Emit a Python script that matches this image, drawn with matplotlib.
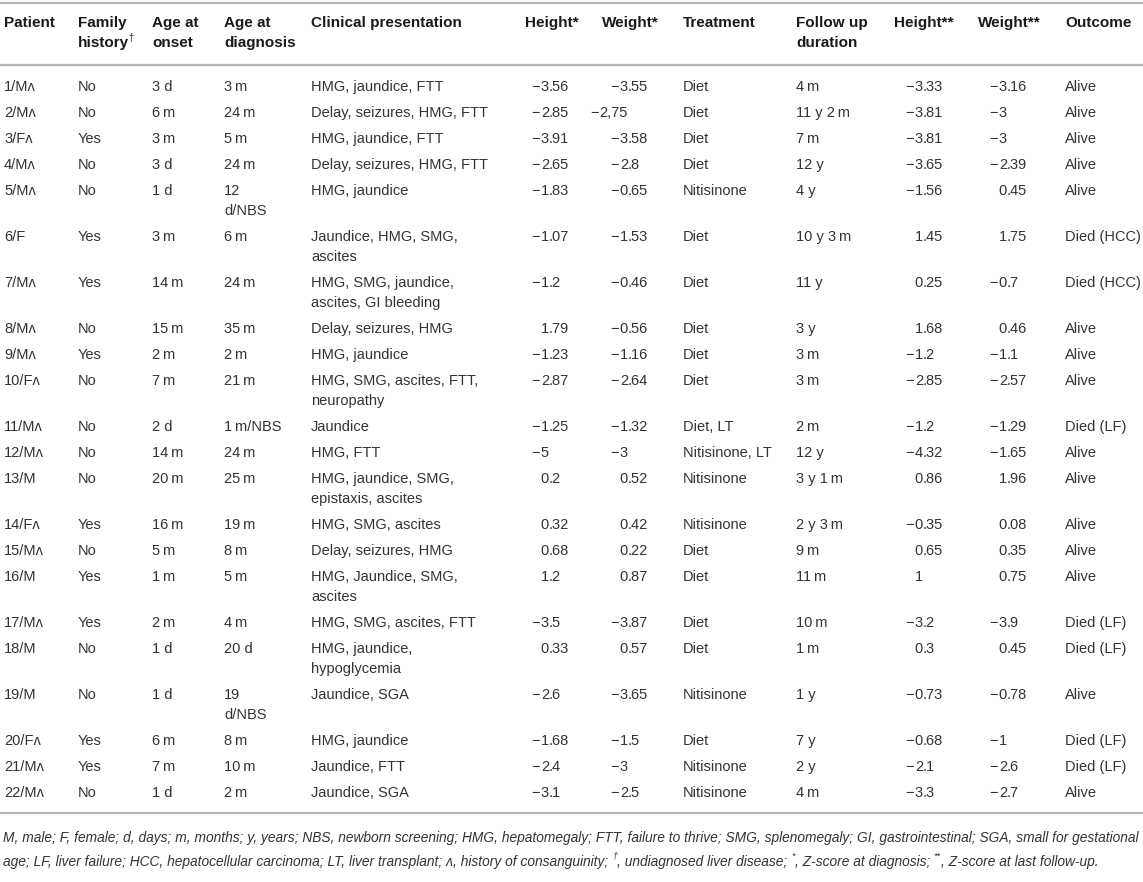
import matplotlib
matplotlib.use('Agg')
import matplotlib.pyplot as plt
from matplotlib.lines import Line2D

# ---- table data ----
patients = ["1/M\u028c", "2/M\u028c", "3/F\u028c", "4/M\u028c", "5/M\u028c", "6/F", "7/M\u028c",
            "8/M\u028c", "9/M\u028c", "10/F\u028c", "11/M\u028c", "12/M\u028c", "13/M", "14/F\u028c",
            "15/M\u028c", "16/M", "17/M\u028c", "18/M", "19/M", "20/F\u028c", "21/M\u028c", "22/M\u028c"]
family = ["No", "No", "Yes", "No", "No", "Yes", "Yes", "No", "Yes", "No", "No", "No", "No", "Yes",
          "No", "Yes", "Yes", "No", "No", "Yes", "Yes", "No"]
onset = ["3 d", "6\u2009m", "3\u2009m", "3 d", "1 d", "3\u2009m", "14\u2009m", "15\u2009m", "2\u2009m", "7\u2009m",
         "2 d", "14\u2009m", "20\u2009m", "16\u2009m", "5\u2009m", "1\u2009m", "2\u2009m", "1 d", "1 d",
         "6\u2009m", "7\u2009m", "1 d"]
diagnosis = ["3\u2009m", "24\u2009m", "5\u2009m", "24\u2009m", "12\nd/NBS", "6\u2009m", "24\u2009m", "35\u2009m",
             "2\u2009m", "21\u2009m", "1\u2009m/NBS", "24\u2009m", "25\u2009m", "19\u2009m", "8\u2009m", "5\u2009m",
             "4\u2009m", "20 d", "19\nd/NBS", "8\u2009m", "10\u2009m", "2\u2009m"]
presentation = ["HMG, jaundice, FTT", "Delay, seizures, HMG, FTT", "HMG, jaundice, FTT",
                "Delay, seizures, HMG, FTT", "HMG, jaundice", "Jaundice, HMG, SMG,\nascites",
                "HMG, SMG, jaundice,\nascites, GI bleeding", "Delay, seizures, HMG", "HMG, jaundice",
                "HMG, SMG, ascites, FTT,\nneuropathy", "Jaundice", "HMG, FTT",
                "HMG, jaundice, SMG,\nepistaxis, ascites", "HMG, SMG, ascites", "Delay, seizures, HMG",
                "HMG, Jaundice, SMG,\nascites", "HMG, SMG, ascites, FTT", "HMG, jaundice,\nhypoglycemia",
                "Jaundice, SGA", "HMG, jaundice", "Jaundice, FTT", "Jaundice, SGA"]
height_dx = ["-3.56", "-2.85", "-3.91", "-2.65", "-1.83", "-1.07", "-1.2", "1.79", "-1.23", "-2.87",
             "-1.25", "-5", "0.2", "0.32", "0.68", "1.2", "-3.5", "0.33", "-2.6", "-1.68", "-2.4", "-3.1"]
weight_dx = ["-3.55", "-2,75", "-3.58", "-2.8", "-0.65", "-1.53", "-0.46", "-0.56", "-1.16", "-2.64",
             "-1.32", "-3", "0.52", "0.42", "0.22", "0.87", "-3.87", "0.57", "-3.65", "-1.5", "-3", "-2.5"]
treatment = ["Diet", "Diet", "Diet", "Diet", "Nitisinone", "Diet", "Diet", "Diet", "Diet", "Diet",
             "Diet, LT", "Nitisinone, LT", "Nitisinone", "Nitisinone", "Diet", "Diet", "Diet", "Diet",
             "Nitisinone", "Diet", "Nitisinone", "Nitisinone"]
followup = ["4\u2009m", "11 y 2\u2009m", "7\u2009m", "12 y", "4 y", "10 y 3\u2009m", "11 y", "3 y", "3\u2009m",
            "3\u2009m", "2\u2009m", "12 y", "3 y 1\u2009m", "2 y 3\u2009m", "9\u2009m", "11\u2009m", "10\u2009m",
            "1\u2009m", "1 y", "7 y", "2 y", "4\u2009m"]
height_fu = ["-3.33", "-3.81", "-3.81", "-3.65", "-1.56", "1.45", "0.25", "1.68", "-1.2", "-2.85",
             "-1.2", "-4.32", "0.86", "-0.35", "0.65", "1", "-3.2", "0.3", "-0.73", "-0.68", "-2.1", "-3.3"]
weight_fu = ["-3.16", "-3", "-3", "-2.39", "0.45", "1.75", "-0.7", "0.46", "-1.1", "-2.57",
             "-1.29", "-1.65", "1.96", "0.08", "0.35", "0.75", "-3.9", "0.45", "-0.78", "-1", "-2.6", "-2.7"]
outcome = ["Alive", "Alive", "Alive", "Alive", "Alive", "Died (HCC)", "Died (HCC)", "Alive", "Alive",
           "Alive", "Died (LF)", "Alive", "Alive", "Alive", "Alive", "Alive", "Died (LF)", "Died (LF)",
           "Alive", "Died (LF)", "Died (LF)", "Alive"]

headers = ["Patient", "Family\nhistory", "Age at\nonset", "Age at\ndiagnosis", "Clinical presentation",
           "Height*", "Weight*", "Treatment", "Follow up\nduration", "Height**", "Weight**", "Outcome"]

footnote1 = ("M, male; F, female; d, days; m, months; y, years; NBS, newborn screening; HMG, hepatomegaly; "
             "FTT, failure to thrive; SMG, splenomegaly; GI, gastrointestinal; SGA, small for gestational")
footnote2 = [("age; LF, liver failure; HCC, hepatocellular carcinoma; LT, liver transplant; \u028c, history of consanguinity; ", False),
             ("\u2020", True), (", undiagnosed liver disease; ", False), ("*", True),
             (", Z-score at diagnosis; ", False), ("**", True), (", Z-score at last follow-up.", False)]

# ---- layout ----
W, H = 1143, 882
fig = plt.figure(figsize=(W / 100, H / 100), dpi=100)
r = fig.canvas.get_renderer()

FONT = ['Liberation Sans', 'DejaVu Sans']
BODY = '#333333'
HEAD = '#1a1a1a'
RULE = '#b4b4b4'
fs_body = 10.5
fs_head = 11.0


def put(x, y, s, **kw):
    kw.setdefault('fontfamily', FONT)
    kw.setdefault('va', 'center')
    return fig.text(x / W, 1 - y / H, s, **kw)


def width(t):
    return t.get_window_extent(r).width


def hrule(y):
    fig.add_artist(Line2D([0, 1], [1 - y / H, 1 - y / H], color=RULE, lw=1.6))


def put_num(xd, y, s):
    # decimal-aligned number, minus sign set slightly apart as in the source
    neg = s.startswith('-')
    body = s.lstrip('-')
    if '.' in body:
        ip, fp = body.split('.', 1)
        fp = '.' + fp
    else:
        ip, fp = body, ''
    t = put(xd, y, ip, ha='right', fontsize=fs_body, color=BODY)
    if fp:
        put(xd, y, fp, ha='left', fontsize=fs_body, color=BODY)
    if neg:
        put(xd - width(t) - 1, y, '\u2212', ha='right', fontsize=fs_body, color=BODY)


text_x = {0: 4, 1: 78, 2: 152, 3: 224, 4: 311, 7: 683, 8: 796, 11: 1065}
head_x = {5: 525, 6: 602, 9: 894, 10: 978}
dec_x = {5: 549, 6: 628, 9: 923, 10: 1007}

hrule(2.5)
hrule(65)

for i, h in enumerate(headers):
    x = text_x.get(i, head_x.get(i))
    for k, line in enumerate(h.split('\n')):
        t = put(x, 23 + 20 * k, line, fontsize=fs_head, fontweight='bold', color=HEAD)
        if i == 1 and k == 1:
            put(x + width(t) - 1, 38, '\u2020', fontsize=7, color=HEAD)

cols = [patients, family, onset, diagnosis, presentation, height_dx, weight_dx,
        treatment, followup, height_fu, weight_fu, outcome]

y = 87
for row in range(len(patients)):
    nlines = 1
    for ci, col in enumerate(cols):
        if ci in dec_x:
            put_num(dec_x[ci], y, col[row])
            continue
        lines = col[row].split('\n')
        nlines = max(nlines, len(lines))
        for k, line in enumerate(lines):
            put(text_x[ci], y + 20 * k, line, fontsize=fs_body, color=BODY)
    y += 26 + 20 * (nlines - 1)

hrule(y - 6)

# footnote, scaled to span the page width
fs_note = 10
t = put(3, y + 19, footnote1, fontsize=fs_note, style='italic', color=BODY)
fs_note = fs_note * 1135 / width(t)
t.set_fontsize(fs_note)

x = 3
for seg, sup in footnote2:
    if sup:
        t = put(x, y + 37, seg, fontsize=fs_note * 0.65, style='italic', color=BODY)
    else:
        t = put(x, y + 43, seg, fontsize=fs_note, style='italic', color=BODY)
    x += width(t)

fig.savefig('out.png', dpi=100)
